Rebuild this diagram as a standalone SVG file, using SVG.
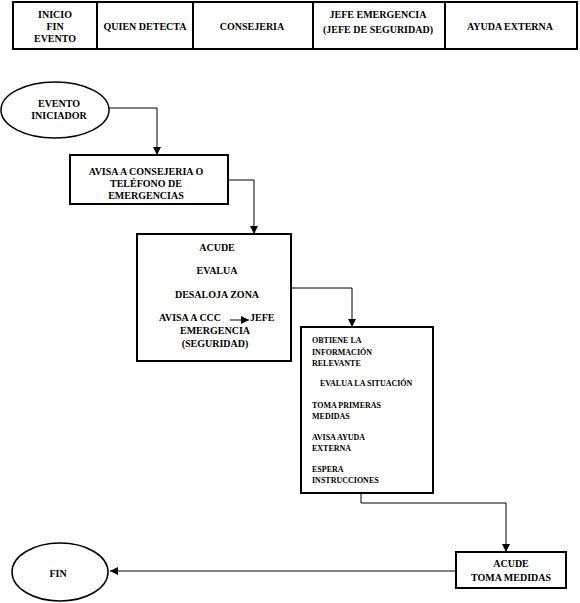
<svg xmlns="http://www.w3.org/2000/svg" width="580" height="603" viewBox="0 0 580 603">
<style>
text{font-family:"Liberation Serif","Times New Roman","DejaVu Serif",serif;font-weight:bold;fill:#000}
.t{font-size:10px}
.s{font-size:8px}
.c{text-anchor:middle}
.box{fill:#fff;stroke:#000;stroke-width:2}
.ell{fill:#fff;stroke:#000;stroke-width:1.5}
.con{fill:none;stroke:#000;stroke-width:1}
</style>
<defs>
<marker id="arr" viewBox="0 0 10 10" refX="10" refY="5" markerWidth="8" markerHeight="8" markerUnits="userSpaceOnUse" orient="auto">
<path d="M0,0 L10,5 L0,10 z" fill="#000"/>
</marker>
</defs>
<rect width="580" height="603" fill="#fff"/>
<g id="header">
<rect class="box" x="13" y="2" width="564" height="47"/>
<line x1="97" y1="2" x2="97" y2="49" stroke="#000" stroke-width="2"/>
<line x1="193" y1="2" x2="193" y2="49" stroke="#000" stroke-width="2"/>
<line x1="313" y1="2" x2="313" y2="49" stroke="#000" stroke-width="2"/>
<line x1="445" y1="2" x2="445" y2="49" stroke="#000" stroke-width="2"/>
<text class="t c" x="55" y="18">INICIO</text>
<text class="t c" x="55" y="30">FIN</text>
<text class="t c" x="55" y="42">EVENTO</text>
<text class="t c" x="145" y="30">QUIEN DETECTA</text>
<text class="t c" x="252" y="30">CONSEJERIA</text>
<text class="t c" x="378" y="18">JEFE EMERGENCIA</text>
<text class="t c" x="378" y="33">(JEFE DE SEGURIDAD)</text>
<text class="t c" x="510" y="30">AYUDA EXTERNA</text>
</g>
<g id="connectors">
<path class="con" d="M109,108 H157 V155" marker-end="url(#arr)"/>
<path class="con" d="M228,180 H254 V234" marker-end="url(#arr)"/>
<path class="con" d="M291,288 H352 V327" marker-end="url(#arr)"/>
<path class="con" d="M361,493 V503 H506 V552" marker-end="url(#arr)"/>
<path class="con" d="M456,571 H110" marker-end="url(#arr)"/>
</g>
<g id="evento">
<ellipse class="ell" cx="55" cy="110" rx="54" ry="28"/>
<text class="t c" x="59" y="107">EVENTO</text>
<text class="t c" x="59" y="119">INICIADOR</text>
</g>
<g id="avisa">
<rect class="box" x="70" y="155" width="158" height="49"/>
<text class="t c" x="146" y="175">AVISA A CONSEJERIA O</text>
<text class="t c" x="146" y="187">TELÉFONO DE</text>
<text class="t c" x="146" y="199">EMERGENCIAS</text>
</g>
<g id="acude1">
<rect class="box" x="137" y="234" width="154" height="127"/>
<text class="t c" x="217" y="251">ACUDE</text>
<text class="t c" x="217" y="274">EVALUA</text>
<text class="t c" x="217" y="298">DESALOJA ZONA</text>
<text class="t" x="159" y="321">AVISA A CCC</text>
<path class="con" d="M230,320 H249" marker-end="url(#arr)"/>
<text class="t" x="250" y="321">JEFE</text>
<text class="t c" x="215" y="334">EMERGENCIA</text>
<text class="t c" x="215" y="347">(SEGURIDAD)</text>
</g>
<g id="jefe">
<rect class="box" x="301" y="327" width="132" height="166"/>
<text class="s" x="312" y="343">OBTIENE LA</text>
<text class="s" x="312" y="355">INFORMACIÓN</text>
<text class="s" x="312" y="366">RELEVANTE</text>
<text class="s" x="320" y="386">EVALUA LA SITUACIÓN</text>
<text class="s" x="312" y="408">TOMA PRIMERAS</text>
<text class="s" x="312" y="419">MEDIDAS</text>
<text class="s" x="312" y="440">AVISA AYUDA</text>
<text class="s" x="312" y="451">EXTERNA</text>
<text class="s" x="312" y="472">ESPERA</text>
<text class="s" x="312" y="483">INSTRUCCIONES</text>
</g>
<g id="externa">
<rect class="box" x="456" y="552" width="110" height="36"/>
<text class="t c" x="511" y="567">ACUDE</text>
<text class="t c" x="511" y="581">TOMA MEDIDAS</text>
</g>
<g id="fin">
<ellipse class="ell" cx="60" cy="572" rx="48" ry="29"/>
<text class="t c" x="58" y="577">FIN</text>
</g>
</svg>
